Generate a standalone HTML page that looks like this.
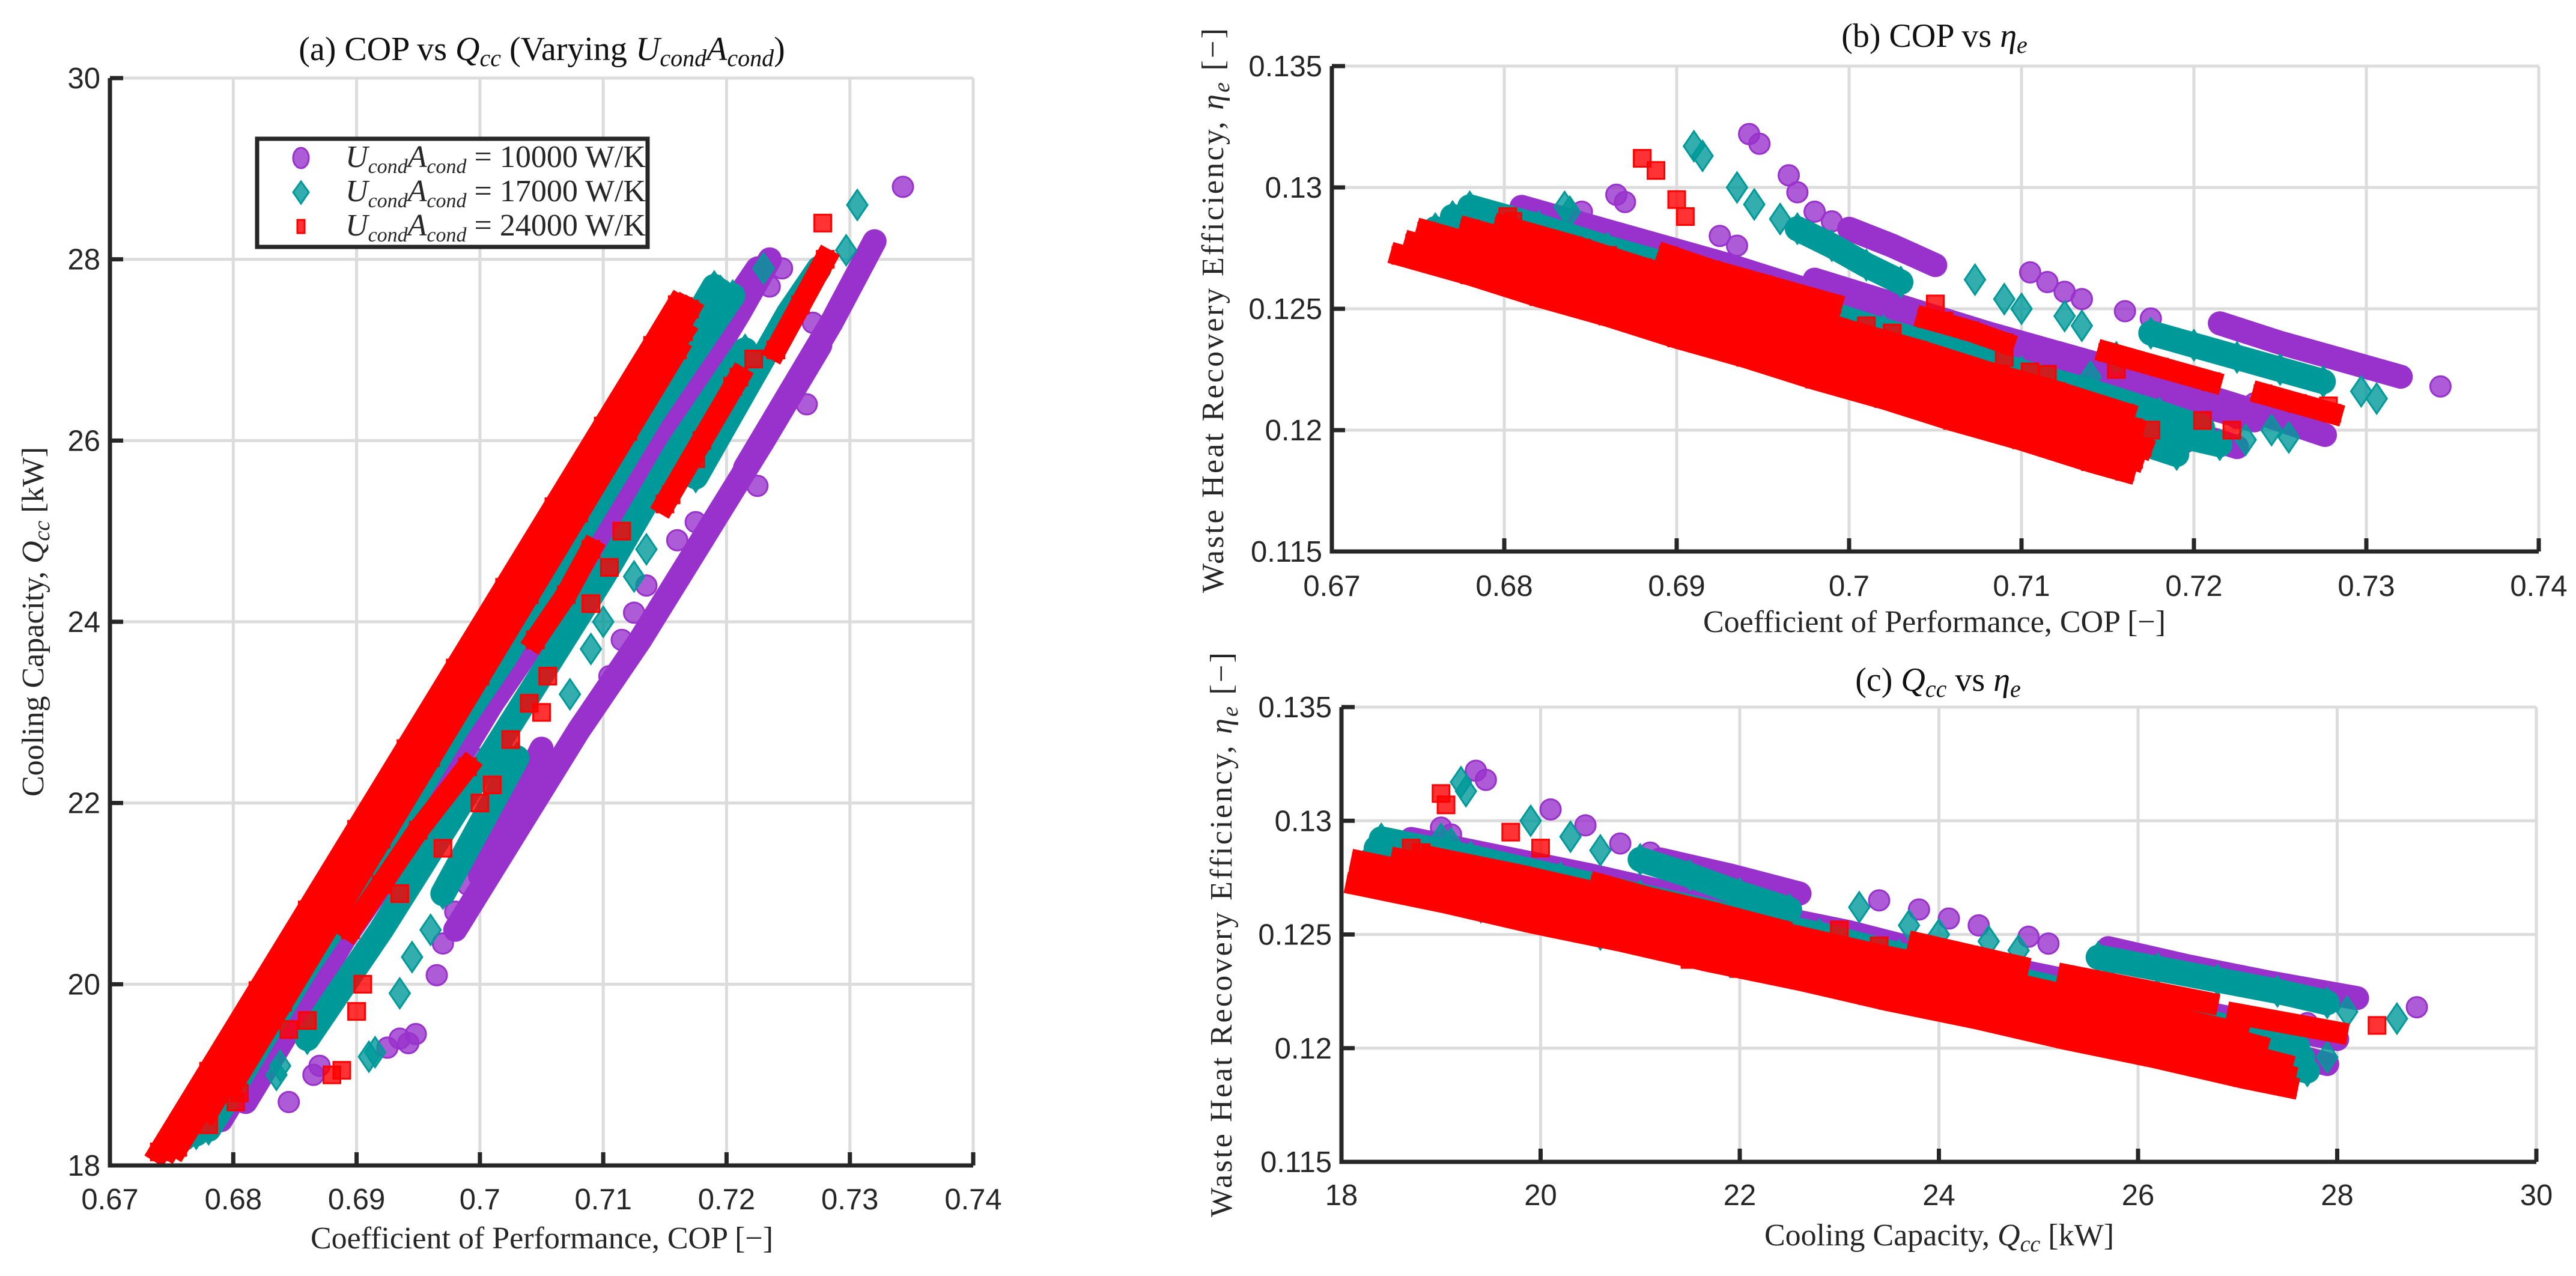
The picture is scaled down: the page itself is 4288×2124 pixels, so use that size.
<!DOCTYPE html>
<html><head><meta charset="utf-8"><title>COP vs Qcc and eta</title>
<style>
html,body{margin:0;padding:0;background:#fff;}
svg{display:block;}
.tk{font-family:"Liberation Sans",Arial,sans-serif;font-size:49px;fill:#262626;}
.lb{font-family:"Liberation Serif","DejaVu Serif",serif;font-size:52px;fill:#262626;}
.tt{font-family:"Liberation Serif","DejaVu Serif",serif;font-size:56px;fill:#111;}
</style></head>
<body>
<svg id="fig" xmlns="http://www.w3.org/2000/svg" width="4288" height="2124" viewBox="0 0 4288 2124">
<rect width="4288" height="2124" fill="#fff"/>
<g id="gridLayer"></g>
<g id="dataLayer"></g>
<g id="axisLayer"></g>

<text class="tt" x="902" y="100" text-anchor="middle">(a) COP vs <tspan font-style="italic">Q</tspan><tspan font-style="italic" font-size="40" dy="10">cc</tspan><tspan dy="-10"> (Varying </tspan><tspan font-style="italic">U</tspan><tspan font-style="italic" font-size="40" dy="10">cond</tspan><tspan font-style="italic" dy="-10">A</tspan><tspan font-style="italic" font-size="40" dy="10">cond</tspan><tspan dy="-10">)</tspan></text>
<text class="tt" x="3220" y="78" text-anchor="middle">(b) COP vs <tspan font-style="italic">η</tspan><tspan font-style="italic" font-size="40" dy="10">e</tspan></text>
<text class="tt" x="3226" y="1150" text-anchor="middle">(c) <tspan font-style="italic">Q</tspan><tspan font-style="italic" font-size="40" dy="10">cc</tspan><tspan dy="-10"> vs </tspan><tspan font-style="italic">η</tspan><tspan font-style="italic" font-size="40" dy="10">e</tspan></text>

<text class="lb" x="902" y="2078" text-anchor="middle">Coefficient of Performance, COP [−]</text>
<text class="lb" transform="translate(72,1035) rotate(-90)" text-anchor="middle">Cooling Capacity, <tspan font-style="italic">Q</tspan><tspan font-style="italic" font-size="38" dy="10">cc</tspan><tspan dy="-10"> [kW]</tspan></text>
<text class="lb" x="3220" y="1052" text-anchor="middle">Coefficient of Performance, COP [−]</text>
<text class="lb" transform="translate(2036,517) rotate(-90)" text-anchor="middle" textLength="940" lengthAdjust="spacing">Waste Heat Recovery Efficiency, <tspan font-style="italic">η</tspan><tspan font-style="italic" font-size="38" dy="10">e</tspan><tspan dy="-10"> [−]</tspan></text>
<text class="lb" x="3228" y="2073" text-anchor="middle">Cooling Capacity, <tspan font-style="italic">Q</tspan><tspan font-style="italic" font-size="38" dy="10">cc</tspan><tspan dy="-10"> [kW]</tspan></text>
<text class="lb" transform="translate(2050,1556) rotate(-90)" text-anchor="middle" textLength="940" lengthAdjust="spacing">Waste Heat Recovery Efficiency, <tspan font-style="italic">η</tspan><tspan font-style="italic" font-size="38" dy="10">e</tspan><tspan dy="-10"> [−]</tspan></text>

<g>
<rect x="428" y="231" width="650" height="180" fill="#fff" stroke="#262626" stroke-width="7"/>
<g>
<ellipse cx="501" cy="263" rx="13" ry="17" fill="#9932CC" fill-opacity="0.8" stroke="#9932CC" stroke-width="3"/>
<text class="lb" x="575" y="278" font-size="48"><tspan font-style="italic">U</tspan><tspan font-style="italic" font-size="34" dy="10">cond</tspan><tspan font-style="italic" dy="-10">A</tspan><tspan font-style="italic" font-size="34" dy="10">cond</tspan><tspan dy="-10"> = 10000 W/K</tspan></text>
</g>
<g>
<polygon points="501,302 514,320 501,339 488,320" fill="#009999" fill-opacity="0.8" stroke="#009999" stroke-width="3"/>
<text class="lb" x="575" y="335" font-size="48"><tspan font-style="italic">U</tspan><tspan font-style="italic" font-size="34" dy="10">cond</tspan><tspan font-style="italic" dy="-10">A</tspan><tspan font-style="italic" font-size="34" dy="10">cond</tspan><tspan dy="-10"> = 17000 W/K</tspan></text>
</g>
<g>
<rect x="495" y="366" width="12" height="22" fill="#FF0000" fill-opacity="0.8" stroke="#FF0000" stroke-width="3"/>
<text class="lb" x="575" y="392" font-size="48"><tspan font-style="italic">U</tspan><tspan font-style="italic" font-size="34" dy="10">cond</tspan><tspan font-style="italic" dy="-10">A</tspan><tspan font-style="italic" font-size="34" dy="10">cond</tspan><tspan dy="-10"> = 24000 W/K</tspan></text>
</g>
</g>
</svg>

<script>
const copTicks = [0.67, 0.68, 0.69, 0.70, 0.71, 0.72, 0.73, 0.74];
const copTickLabels = ["0.67","0.68","0.69","0.7","0.71","0.72","0.73","0.74"];
const qTicks = [18, 20, 22, 24, 26, 28, 30];
const qTickLabels = ["18","20","22","24","26","28","30"];
const etaTicks = [0.115, 0.12, 0.125, 0.13, 0.135];
const etaTickLabels = ["0.115","0.12","0.125","0.13","0.135"];

// [COP, Qcc (kW), eta_e]
const purpleStrips = [
 [[0.679,18.5,0.1286],[0.683,19.4,0.1278],[0.687,20.3,0.1269],[0.691,21.1,0.1261],[0.695,22.0,0.1252],[0.699,22.9,0.1244],[0.703,23.7,0.1235],[0.707,24.6,0.1226],[0.711,25.5,0.1218],[0.715,26.3,0.1210],[0.719,27.2,0.1201],[0.7225,27.9,0.1193]],
 [[0.681,18.7,0.1292],[0.685,19.6,0.1284],[0.689,20.5,0.1276],[0.693,21.3,0.1268],[0.697,22.2,0.1259],[0.701,23.1,0.1251],[0.705,23.9,0.1242],[0.709,24.8,0.1234],[0.713,25.7,0.1226],[0.717,26.5,0.1217],[0.721,27.4,0.1209],[0.7235,28.0,0.1204]],
 [[0.698,20.6,0.1262],[0.703,21.7,0.1251],[0.708,22.8,0.1240],[0.713,23.8,0.1230],[0.718,24.9,0.1220],[0.723,26.0,0.1209],[0.7276,27.05,0.1198]],
 [[0.700,21.2,0.1283],[0.7025,21.9,0.1276],[0.705,22.6,0.1268]],
 [[0.7215,25.7,0.1244],[0.725,26.5,0.1236],[0.7285,27.3,0.1229],[0.732,28.2,0.1222]]
];
const purpleSparse = [[0.6942,19.35,0.1322],[0.6948,19.45,0.1318],[0.6965,20.1,0.1305],[0.697,20.45,0.1298],[0.698,20.8,0.1290],[0.699,21.1,0.1286],[0.7105,23.4,0.1265],[0.7115,23.8,0.1261],[0.7125,24.1,0.1257],[0.7135,24.4,0.1254],[0.716,24.9,0.1249],[0.7175,25.1,0.1246],[0.7343,28.8,0.1218],[0.6865,19.0,0.1297],[0.687,19.1,0.1294],[0.6845,18.7,0.1290],[0.6925,19.3,0.1280],[0.6935,19.4,0.1276],[0.7225,25.5,0.1205],[0.7265,26.4,0.1207],[0.727,27.3,0.1200],[0.7195,26.6,0.1195],[0.7205,27.0,0.1205],[0.7235,27.7,0.1211],[0.7245,27.9,0.1205],[0.6995,22.5,0.1258],[0.7015,22.5,0.1250]];

const tealStrips = [
 [[0.676,18.3,0.1283],[0.680,19.2,0.1275],[0.684,20.1,0.1266],[0.688,20.9,0.1257],[0.692,21.8,0.1249],[0.696,22.7,0.1240],[0.700,23.5,0.1231],[0.704,24.4,0.1223],[0.708,25.3,0.1214],[0.712,26.1,0.1205],[0.716,27.0,0.1197],[0.719,27.7,0.1190]],
 [[0.678,18.4,0.1292],[0.682,19.3,0.1284],[0.686,20.2,0.1275],[0.690,21.0,0.1267],[0.694,21.9,0.1258],[0.698,22.8,0.1250],[0.702,23.6,0.1241],[0.706,24.5,0.1233],[0.710,25.4,0.1224],[0.714,26.3,0.1216],[0.718,27.1,0.1207],[0.7205,27.6,0.1201]],
 [[0.677,18.35,0.1288],[0.681,19.25,0.1280],[0.685,20.15,0.1271],[0.689,20.95,0.1262],[0.693,21.85,0.1254],[0.697,22.75,0.1245],[0.701,23.55,0.1236],[0.705,24.45,0.1228],[0.709,25.35,0.1219],[0.713,26.2,0.1210],[0.717,27.05,0.1202],[0.7195,27.65,0.1196]],
 [[0.686,19.4,0.1262],[0.692,20.6,0.1250],[0.698,21.9,0.1238],[0.704,23.2,0.1226],[0.710,24.5,0.1214],[0.716,25.9,0.1203],[0.7215,27.0,0.1194]],
 [[0.697,21.0,0.1283],[0.699,21.5,0.1276],[0.701,22.0,0.1268],[0.703,22.5,0.1261]],
 [[0.7175,25.6,0.1240],[0.720,26.2,0.1235],[0.7225,26.8,0.1230],[0.725,27.4,0.1225],[0.7275,27.9,0.1220]]
];
const tealSparse = [[0.691,19.2,0.1317],[0.6915,19.25,0.1313],[0.6935,19.9,0.1300],[0.6945,20.3,0.1293],[0.696,20.6,0.1287],[0.7073,23.2,0.1262],[0.709,23.7,0.1254],[0.710,24.0,0.1250],[0.7125,24.5,0.1247],[0.7135,24.8,0.1243],[0.7297,28.1,0.1216],[0.7306,28.6,0.1213],[0.6835,19.0,0.1292],[0.6838,19.1,0.1290],[0.6775,18.5,0.1285],[0.7245,27.2,0.1200],[0.7255,27.5,0.1197],[0.723,27.9,0.1196],[0.714,25.4,0.1222],[0.7155,25.7,0.1230]];

const redStrips = [
 [[0.674,18.15,0.1272],[0.678,19.04,0.1264],[0.682,19.93,0.1255],[0.686,20.82,0.1247],[0.690,21.71,0.1238],[0.694,22.60,0.1230],[0.698,23.49,0.1221],[0.702,24.38,0.1213],[0.706,25.27,0.1204],[0.710,26.16,0.1196],[0.714,27.05,0.1187],[0.716,27.50,0.1183]],
 [[0.6748,18.18,0.1277],[0.6788,19.07,0.1269],[0.6828,19.96,0.1260],[0.6868,20.85,0.1252],[0.6908,21.74,0.1243],[0.6948,22.63,0.1235],[0.6988,23.52,0.1226],[0.7028,24.41,0.1218],[0.7068,25.3,0.1209],[0.7108,26.19,0.1201],[0.7148,27.08,0.1192],[0.7165,27.48,0.1188]],
 [[0.6755,18.2,0.1282],[0.6795,19.09,0.1274],[0.6835,19.98,0.1265],[0.6875,20.87,0.1257],[0.6915,21.76,0.1248],[0.6955,22.65,0.1240],[0.6995,23.54,0.1231],[0.7035,24.43,0.1223],[0.7075,25.32,0.1214],[0.7115,26.21,0.1206],[0.7155,27.1,0.1197],[0.717,27.45,0.1193]],
 [[0.678,18.6,0.1283],[0.682,19.5,0.1275],[0.686,20.4,0.1266],[0.690,21.3,0.1258],[0.694,22.2,0.1249],[0.698,23.1,0.1241],[0.702,24.0,0.1232],[0.706,24.9,0.1224],[0.710,25.8,0.1215],[0.714,26.7,0.1207],[0.7165,27.2,0.1201]],
 [[0.680,18.9,0.1284],[0.684,19.8,0.1276],[0.688,20.7,0.1267],[0.692,21.6,0.1258],[0.696,22.5,0.1250],[0.700,23.4,0.1241],[0.704,24.3,0.1233],[0.708,25.2,0.1224],[0.712,26.1,0.1216],[0.716,27.0,0.1207]],
 [[0.6895,20.6,0.1272],[0.692,21.1,0.1266],[0.695,21.7,0.1260],[0.699,22.4,0.1252]],
 [[0.7045,23.8,0.1246],[0.707,24.3,0.1241],[0.709,24.8,0.1236]],
 [[0.715,25.3,0.1232],[0.718,26.0,0.1226],[0.721,26.7,0.1220]],
 [[0.724,27.0,0.1215],[0.726,27.5,0.1211],[0.728,28.0,0.1207]]
];
const redSparse = [[0.688,19.0,0.1312],[0.6888,19.05,0.1307],[0.690,19.7,0.1295],[0.6905,20.0,0.1288],[0.6802,18.7,0.1288],[0.6805,18.8,0.1286],[0.676,18.35,0.1280],[0.678,18.45,0.1279],[0.6845,19.5,0.1275],[0.686,19.6,0.1272],[0.705,23.0,0.1252],[0.7055,23.4,0.1245],[0.7025,22.7,0.1240],[0.697,21.5,0.1239],[0.701,22.2,0.1243],[0.709,24.2,0.1230],[0.7105,24.6,0.1224],[0.7115,25.0,0.1223],[0.7175,25.8,0.1200],[0.7205,26.6,0.1204],[0.7222,26.9,0.1200],[0.7278,28.4,0.1210],[0.7155,25.4,0.1225],[0.6935,21.0,0.1250],[0.700,22.0,0.1235],[0.704,23.1,0.1228]];

const NS = "http://www.w3.org/2000/svg";
const gridLayer = document.getElementById("gridLayer");
const dataLayer = document.getElementById("dataLayer");
const axisLayer = document.getElementById("axisLayer");

function lin(d0, d1, r0, r1) { return v => r0 + (v - d0) / (d1 - d0) * (r1 - r0); }
function el(tag, attrs, parent) {
  const e = document.createElementNS(NS, tag);
  for (const k in attrs) e.setAttribute(k, attrs[k]);
  parent.appendChild(e); return e;
}

const axA = {x0:183, x1:1620, y0:130, y1:1940, sx:lin(0.67,0.74,183,1620), sy:lin(18,30,1940,130), xt:copTicks, xl:copTickLabels, yt:qTicks, yl:qTickLabels, xi:0, yi:1, name:"a", xlabY:2013};
const axB = {x0:2217, x1:4226, y0:110, y1:918, sx:lin(0.67,0.74,2217,4226), sy:lin(0.115,0.135,918,110), xt:copTicks, xl:copTickLabels, yt:etaTicks, yl:etaTickLabels, xi:0, yi:2, name:"b", xlabY:992};
const axC = {x0:2233, x1:4222, y0:1177, y1:1934, sx:lin(18,30,2233,4222), sy:lin(0.115,0.135,1934,1177), xt:qTicks, xl:qTickLabels, yt:etaTicks, yl:etaTickLabels, xi:1, yi:2, name:"c", xlabY:2006};
const axes = [axA, axB, axC];

axes.forEach(ax => {
  const g = el("g", {}, gridLayer);
  
  
  ax.xt.forEach(t => { const x = ax.sx(t); el("line", {x1:x, x2:x, y1:ax.y0, y2:ax.y1, stroke:"#dcdcdc", "stroke-width":5}, g); });
  ax.yt.forEach(t => { const y = ax.sy(t); el("line", {x1:ax.x0, x2:ax.x1, y1:y, y2:y, stroke:"#dcdcdc", "stroke-width":5}, g); });

  const a = el("g", {}, axisLayer);
  
  
  el("path", {d:`M${ax.x0},${ax.y0} V${ax.y1} H${ax.x1}`, fill:"none", stroke:"#262626", "stroke-width":7}, a);
  ax.xt.forEach((t, i) => {
    const x = ax.sx(t);
    el("line", {x1:x, x2:x, y1:ax.y1, y2:ax.y1 - 22, stroke:"#262626", "stroke-width":7}, a);
    const tx = el("text", {x:x, y:ax.xlabY, "text-anchor":"middle", class:"tk"}, a);
    tx.textContent = ax.xl[i];
    
    
  });
  ax.yt.forEach((t, i) => {
    const y = ax.sy(t);
    el("line", {x1:ax.x0, x2:ax.x0 + 22, y1:y, y2:y, stroke:"#262626", "stroke-width":7}, a);
    const tx = el("text", {x:ax.x0 - 16, y:y + 17, "text-anchor":"end", class:"tk"}, a);
    tx.textContent = ax.yl[i];
    
    
  });
});

function marker(shape, color, x, y, parent) {
  let m;
  if (shape === "circle") m = el("circle", {cx:x, cy:y, r:17}, parent);
  else if (shape === "diamond") m = el("polygon", {points:`${x},${y-25} ${x+17},${y} ${x},${y+25} ${x-17},${y}`}, parent);
  else m = el("rect", {x:x-14, y:y-14, width:28, height:28}, parent);
  m.setAttribute("fill", color); m.setAttribute("fill-opacity", "0.8");
  m.setAttribute("stroke", color); m.setAttribute("stroke-width", "3");
  
  
}

const series = [
  {strips: purpleStrips, sparse: purpleSparse, color: "#9932CC", shape: "circle", w: 40, cap: "round", key: "10000"},
  {strips: tealStrips, sparse: tealSparse, color: "#009999", shape: "diamond", w: 42, cap: "round", key: "17000"},
  {strips: redStrips, sparse: redSparse, color: "#FF0000", shape: "square", w: 36, cap: "square", key: "24000"}
];

axes.forEach(ax => {
  series.forEach(s => {
    const g = el("g", {}, dataLayer);
    
    
    s.strips.forEach(strip => {
      const pts = strip.map(p => ax.sx(p[ax.xi]).toFixed(1) + "," + ax.sy(p[ax.yi]).toFixed(1)).join(" ");
      const pl = el("polyline", {points: pts, fill:"none", stroke: s.color, "stroke-width": s.w, "stroke-linecap": s.cap, "stroke-linejoin":"round"}, g);
      
      
      strip.forEach(p => marker(s.shape, s.color, ax.sx(p[ax.xi]), ax.sy(p[ax.yi]), g));
    });
    s.sparse.forEach(p => marker(s.shape, s.color, ax.sx(p[ax.xi]), ax.sy(p[ax.yi]), g));
  });
});
</script>
</body></html>
